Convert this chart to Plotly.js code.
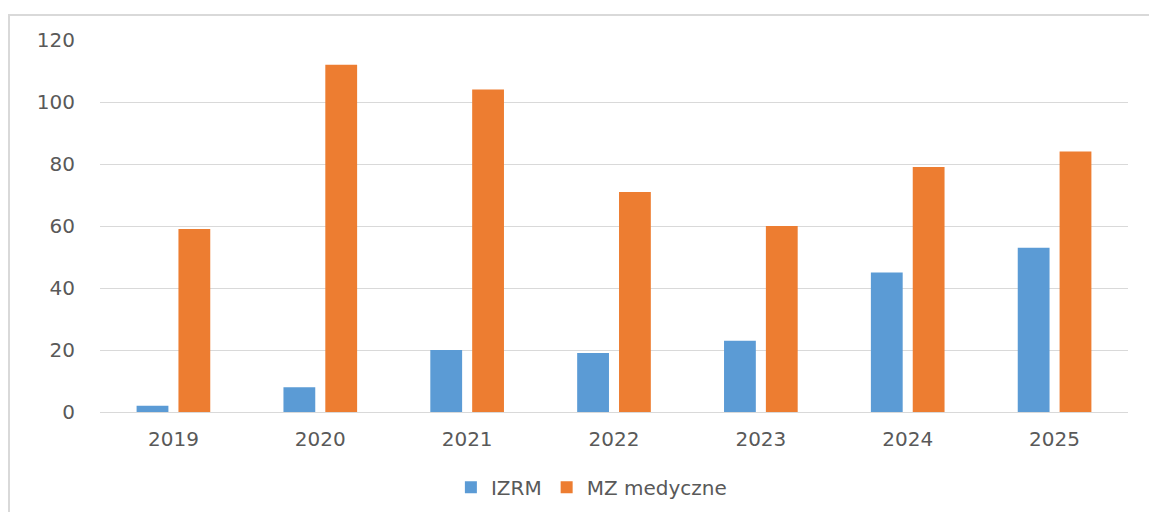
<!DOCTYPE html>
<html>
<head>
<meta charset="utf-8">
<script src="https://cdn.plot.ly/plotly-3.0.1.min.js"></script>
<style>html,body{margin:0;padding:0;background:#fff;}#chart{width:1149px;height:512px;}</style>
</head>
<body>
<div id="chart"></div>
<script>
const years = ['2019','2020','2021','2022','2023','2024','2025'];
const izrm = [2, 8, 20, 19, 23, 45, 53];
const mzMedyczne = [59, 112, 104, 71, 60, 79, 84];
const yTicks = [0, 20, 40, 60, 80, 100, 120];

const font = {family: 'DejaVu Sans, Verdana, sans-serif', size: 20, color: '#595959'};

const data = [
  {type: 'bar', name: 'IZRM', x: years, y: izrm, marker: {color: '#5B9BD5'}},
  {type: 'bar', name: 'MZ medyczne', x: years, y: mzMedyczne, marker: {color: '#ED7D31'}}
];

const layout = {
  width: 1149, height: 512,
  margin: {l: 100, r: 21, t: 40, b: 100, autoexpand: false},
  paper_bgcolor: '#fff', plot_bgcolor: '#fff',
  barmode: 'group', bargap: 0.43, bargroupgap: 0.24,
  font: font,
  showlegend: true,
  legend: {orientation: 'h', x: 0.478, xanchor: 'center', y: -0.15, yanchor: 'top', font: font, itemwidth: 30, traceorder: 'normal'},
  xaxis: {type: 'category', showgrid: false, showline: true, linecolor: '#d9d9d9', linewidth: 1, tickfont: font, ticks: '', ticklabelstandoff: 9, fixedrange: true, automargin: false},
  yaxis: {range: [0, 120], tickvals: yTicks, showgrid: true, gridcolor: '#d9d9d9', gridwidth: 1, zeroline: false, showline: false, tickfont: font, ticklabelstandoff: 24, fixedrange: true, automargin: false},
  shapes: [{type: 'rect', xref: 'paper', yref: 'paper', x0: -0.0885, x1: 1.1, y0: -0.5, y1: 1.067, line: {color: '#d9d9d9', width: 2}, fillcolor: 'rgba(0,0,0,0)', layer: 'below'}]
};

Plotly.newPlot('chart', data, layout, {displayModeBar: false, staticPlot: true});
</script>
</body>
</html>
